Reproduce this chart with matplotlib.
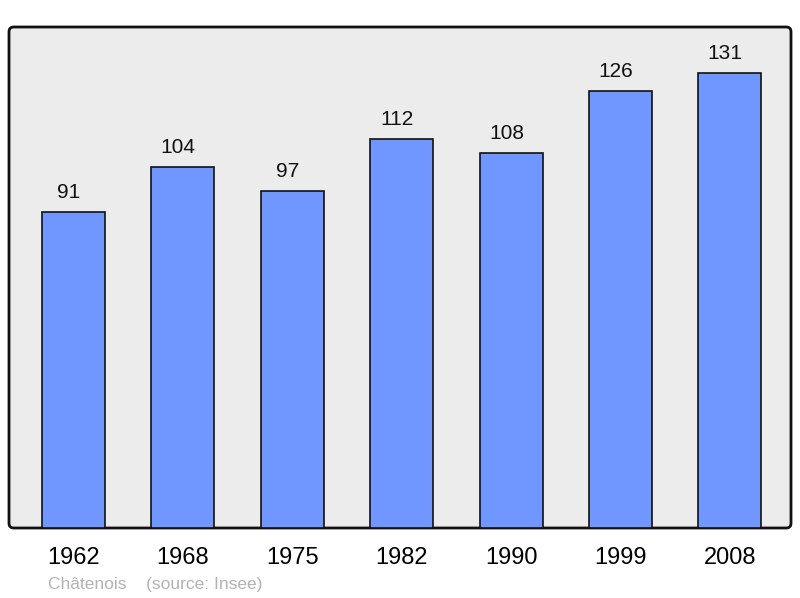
import matplotlib.pyplot as plt
from matplotlib.patches import FancyBboxPatch

plt.rcParams['font.family'] = ['Liberation Sans', 'DejaVu Sans']

years = ["1962", "1968", "1975", "1982", "1990", "1999", "2008"]
population = [91, 104, 97, 112, 108, 126, 131]

fig = plt.figure(figsize=(8, 5.98), dpi=100)
ax = fig.add_axes([9 / 800, 70 / 598, 782 / 800, 501 / 598])
ax.set_facecolor("none")
ax.set_zorder(2)

# rounded grey frame behind the plot area
frame = FancyBboxPatch((9 / 800, 70 / 598), 782 / 800, 501 / 598,
                       boxstyle="round,pad=0,rounding_size=0.006",
                       mutation_aspect=800 / 598,
                       transform=fig.transFigure, facecolor="#ececec",
                       edgecolor="#111111", linewidth=2, zorder=0)
fig.patches.append(frame)

x = list(range(len(years)))
bars = ax.bar(x, population, width=0.576, color="#7096ff",
              edgecolor="#111111", linewidth=1.2, zorder=2)

# value labels sit a little left of the bar centre, as in the original
for xi, v in zip(x, population):
    ax.annotate(str(v), (xi, v), xytext=(-3.3, 10), textcoords="offset points",
                ha="center", va="baseline", fontsize=15, color="#111111")

ax.set_xlim(-0.59, 6.56)
ax.set_ylim(0, 144.3)
for s in ax.spines.values():
    s.set_visible(False)
ax.set_yticks([])
ax.set_xticks(x)
ax.set_xticklabels(years, fontsize=17)
ax.tick_params(axis="x", length=0, pad=14)

fig.text(48 / 800, 1 - 584 / 598, "Châtenois    (source: Insee)",
         fontsize=12.5, color="#b3b3b3", va="center", ha="left")

fig.savefig("out.png", dpi=100)
